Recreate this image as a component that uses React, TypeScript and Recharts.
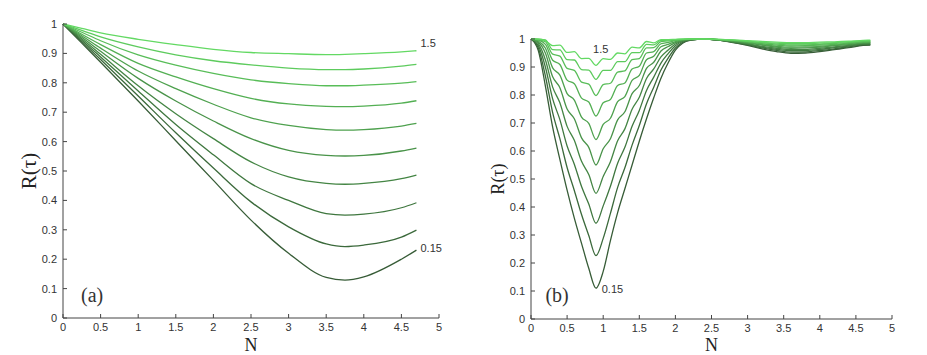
import React from 'react';
import { LineChart, Line, XAxis, YAxis, ReferenceDot } from 'recharts';

// axis ticks
const xTicks = [0, 0.5, 1, 1.5, 2, 2.5, 3, 3.5, 4, 4.5, 5];
const yTicks = [0, 0.1, 0.2, 0.3, 0.4, 0.5, 0.6, 0.7, 0.8, 0.9, 1];

// curve parameters, light (1.5) to dark (0.15)
const curveNames = ['1.5', '1.35', '1.2', '1.05', '0.9', '0.75', '0.6', '0.45', '0.3', '0.15'];
const lineColors = ['#63d963', '#5dcb5d', '#58bd58', '#53af53', '#4ea14e', '#499349', '#448544', '#3f773f', '#3b693b', '#375c37'];

// panel (a)
const leftN = [0, 0.25, 0.5, 1, 1.5, 2, 2.5, 3, 3.5, 3.75, 4, 4.5, 4.7];
const leftA1 = [1, 0.985, 0.970, 0.948, 0.930, 0.914, 0.903, 0.899, 0.896, 0.897, 0.899, 0.905, 0.909];
const leftA2 = [1, 0.978, 0.956, 0.922, 0.895, 0.875, 0.861, 0.850, 0.845, 0.845, 0.847, 0.857, 0.863];
const leftA3 = [1, 0.972, 0.943, 0.895, 0.860, 0.832, 0.810, 0.797, 0.790, 0.790, 0.792, 0.799, 0.804];
const leftA4 = [1, 0.965, 0.930, 0.866, 0.820, 0.780, 0.747, 0.728, 0.720, 0.719, 0.721, 0.731, 0.739];
const leftA5 = [1, 0.960, 0.918, 0.840, 0.780, 0.727, 0.681, 0.655, 0.641, 0.639, 0.641, 0.653, 0.662];
const leftA6 = [1, 0.955, 0.907, 0.815, 0.738, 0.670, 0.610, 0.570, 0.553, 0.551, 0.553, 0.568, 0.578];
const leftA7 = [1, 0.950, 0.897, 0.790, 0.695, 0.610, 0.531, 0.480, 0.458, 0.455, 0.458, 0.474, 0.486];
const leftA8 = [1, 0.945, 0.888, 0.772, 0.658, 0.555, 0.457, 0.400, 0.355, 0.350, 0.353, 0.375, 0.392];
const leftA9 = [1, 0.940, 0.879, 0.755, 0.630, 0.510, 0.395, 0.310, 0.252, 0.243, 0.248, 0.275, 0.299];
const leftA10 = [1, 0.935, 0.870, 0.738, 0.603, 0.468, 0.333, 0.220, 0.138, 0.129, 0.140, 0.200, 0.231];
const leftCurves = [leftA1, leftA2, leftA3, leftA4, leftA5, leftA6, leftA7, leftA8, leftA9, leftA10];

// panel (b)
const rightN = [0, 0.1, 0.2, 0.3, 0.4, 0.5, 0.6, 0.7, 0.8, 0.9, 1.0, 1.1, 1.2, 1.3, 1.4, 1.5, 1.6, 1.7, 1.8, 1.9, 2.0, 2.1, 2.2,
  2.4, 2.6, 2.8, 3.0, 3.2, 3.4, 3.6, 3.8, 4.0, 4.2, 4.4, 4.6, 4.7];
const rightB1 = [1, 1, 0.994, 0.976, 0.978, 0.952, 0.955, 0.930, 0.931, 0.906, 0.930, 0.927, 0.950, 0.947, 0.971, 0.968, 0.991, 0.986, 0.998, 0.998, 0.999, 1, 1,
  1, 0.999, 0.997, 0.994, 0.991, 0.989, 0.987, 0.987, 0.989, 0.990, 0.992, 0.995, 0.996];
const rightB2 = [1, 0.999, 0.997, 0.962, 0.961, 0.926, 0.925, 0.891, 0.889, 0.856, 0.888, 0.888, 0.919, 0.919, 0.951, 0.951, 0.981, 0.979, 0.995, 0.996, 0.998, 0.999, 1,
  1, 0.999, 0.996, 0.992, 0.988, 0.985, 0.983, 0.983, 0.985, 0.987, 0.990, 0.993, 0.994];
const rightB3 = [1, 0.998, 0.990, 0.946, 0.939, 0.895, 0.888, 0.846, 0.839, 0.798, 0.837, 0.842, 0.882, 0.886, 0.926, 0.930, 0.968, 0.969, 0.991, 0.993, 0.996, 0.998, 1,
  1, 0.998, 0.995, 0.991, 0.986, 0.982, 0.979, 0.979, 0.981, 0.984, 0.987, 0.991, 0.992];
const rightB4 = [1, 0.996, 0.981, 0.924, 0.909, 0.853, 0.840, 0.789, 0.775, 0.725, 0.772, 0.784, 0.834, 0.843, 0.893, 0.903, 0.950, 0.955, 0.983, 0.988, 0.994, 0.998, 0.999,
  1, 0.998, 0.994, 0.989, 0.983, 0.978, 0.975, 0.976, 0.978, 0.981, 0.985, 0.989, 0.990];
const rightB5 = [1, 0.993, 0.967, 0.897, 0.871, 0.805, 0.782, 0.721, 0.699, 0.641, 0.695, 0.717, 0.776, 0.794, 0.852, 0.870, 0.926, 0.938, 0.972, 0.981, 0.991, 0.997, 0.999,
  1, 0.998, 0.993, 0.987, 0.980, 0.974, 0.971, 0.972, 0.974, 0.978, 0.983, 0.987, 0.988];
const rightB6 = [1, 0.989, 0.949, 0.865, 0.826, 0.750, 0.715, 0.647, 0.613, 0.550, 0.608, 0.644, 0.711, 0.740, 0.805, 0.834, 0.895, 0.917, 0.957, 0.973, 0.987, 0.995, 0.998,
  1, 0.997, 0.992, 0.985, 0.978, 0.971, 0.967, 0.968, 0.971, 0.976, 0.980, 0.985, 0.986];
const rightB7 = [1, 0.984, 0.925, 0.828, 0.772, 0.688, 0.638, 0.563, 0.516, 0.449, 0.509, 0.562, 0.637, 0.679, 0.749, 0.792, 0.859, 0.893, 0.936, 0.961, 0.982, 0.993, 0.998,
  1, 0.997, 0.990, 0.983, 0.974, 0.967, 0.962, 0.963, 0.967, 0.972, 0.977, 0.983, 0.984];
const rightB8 = [1, 0.977, 0.899, 0.786, 0.712, 0.618, 0.553, 0.473, 0.411, 0.342, 0.404, 0.474, 0.556, 0.613, 0.688, 0.745, 0.816, 0.864, 0.914, 0.948, 0.976, 0.991, 0.997,
  1, 0.996, 0.989, 0.981, 0.971, 0.963, 0.958, 0.959, 0.963, 0.969, 0.975, 0.981, 0.982];
const rightB9 = [1, 0.969, 0.867, 0.737, 0.644, 0.541, 0.459, 0.373, 0.298, 0.226, 0.288, 0.377, 0.470, 0.540, 0.621, 0.691, 0.769, 0.828, 0.889, 0.932, 0.968, 0.988, 0.996,
  1, 0.996, 0.988, 0.979, 0.968, 0.959, 0.953, 0.954, 0.959, 0.965, 0.972, 0.979, 0.980];
const rightB10 = [1, 0.960, 0.831, 0.685, 0.570, 0.460, 0.360, 0.270, 0.181, 0.110, 0.170, 0.280, 0.380, 0.465, 0.550, 0.635, 0.715, 0.790, 0.860, 0.915, 0.960, 0.985, 0.995,
  1, 0.996, 0.987, 0.977, 0.965, 0.955, 0.949, 0.950, 0.955, 0.962, 0.969, 0.977, 0.978];
const rightCurves = [rightB1, rightB2, rightB3, rightB4, rightB5, rightB6, rightB7, rightB8, rightB9, rightB10];

const toRows = (ns: number[], curves: number[][]) =>
  ns.map((n, i) => {
    const row: Record<string, number> = { n };
    curves.forEach((c, k) => { row['c' + k] = c[i]; });
    return row;
  });

const leftData = toRows(leftN, leftCurves);
const rightData = toRows(rightN, rightCurves);

const sans = '"Liberation Sans", Arial, sans-serif';
const serif = '"Liberation Serif", "Times New Roman", serif';
const axisColor = '#444';

const BottomTick = (props: any) => {
  const { x, y, payload } = props;
  return (
    <g>
      <line x1={x} x2={x} y1={y} y2={y - 4} stroke={axisColor} />
      <text x={x} y={y + 13} textAnchor="middle" fontSize={11} fill="#333" fontFamily={sans}>{payload.value}</text>
    </g>
  );
};

const LeftTick = (props: any) => {
  const { x, y, payload } = props;
  return (
    <g>
      <line x1={x} x2={x + 4} y1={y} y2={y} stroke={axisColor} />
      <text x={x - 6} y={y + 4} textAnchor="end" fontSize={11} fill="#333" fontFamily={sans}>{payload.value}</text>
    </g>
  );
};

const makeNLabel = () => (props: any) => {
  const { viewBox } = props;
  const cx = viewBox.x + viewBox.width / 2;
  return <text x={cx} y={viewBox.y + viewBox.height - 4} textAnchor="middle" fontSize={18} fill="#222" fontFamily={serif}>N</text>;
};

const makeRLabel = (bx: number, size: number) => (props: any) => {
  const { viewBox } = props;
  const cy = viewBox.y + viewBox.height / 2;
  return (
    <text x={bx} y={cy} transform={`rotate(-90 ${bx} ${cy})`} textAnchor="middle" fontSize={size} fill="#222" fontFamily={serif}>R(τ)</text>
  );
};

const textShape = (txt: string, size: number, family: string) => (p: any) => (
  <text x={p.cx} y={p.cy} fontSize={size} fill="#333" fontFamily={family}>{txt}</text>
);

interface PanelProps {
  data: Record<string, number>[];
  width: number;
  margin: { top: number; right: number; bottom: number; left: number };
  yAxisWidth: number;
  xAxisHeight: number;
  rLabelX: number;
  rLabelSize: number;
  children?: React.ReactNode;
}

const Panel: React.FC<PanelProps> = ({ data, width, margin, yAxisWidth, xAxisHeight, rLabelX, rLabelSize, children }) => (
  <LineChart width={width} height={355} data={data} margin={margin}>
    <XAxis
      dataKey="n"
      type="number"
      domain={[0, 5]}
      ticks={xTicks}
      interval={0}
      height={xAxisHeight}
      tickSize={0}
      tickMargin={0}
      tickLine={false}
      axisLine={{ stroke: axisColor }}
      tick={<BottomTick />}
      label={{ content: makeNLabel() }}
    />
    <YAxis
      type="number"
      domain={[0, 1]}
      ticks={yTicks}
      interval={0}
      width={yAxisWidth}
      tickSize={0}
      tickMargin={0}
      tickLine={false}
      axisLine={{ stroke: axisColor }}
      tick={<LeftTick />}
      label={{ content: makeRLabel(rLabelX, rLabelSize) }}
    />
    {curveNames.map((_, k) => {
      const idx = curveNames.length - 1 - k; // dark first, light on top
      return (
        <Line
          key={idx}
          type="monotone"
          dataKey={'c' + idx}
          stroke={lineColors[idx]}
          strokeWidth={1.3}
          dot={false}
          activeDot={false}
          isAnimationActive={false}
        />
      );
    })}
    {children}
  </LineChart>
);

export default function App() {
  return (
    <div style={{ position: 'absolute', left: 0, top: 0, width: 927, height: 355, background: '#fff' }}>
      <div style={{ position: 'absolute', left: 0, top: 0 }}>
        <Panel data={leftData} width={470} margin={{ top: 24, right: 31, bottom: 0, left: 0 }} yAxisWidth={63} xAxisHeight={37} rLabelX={36} rLabelSize={21}>
          <ReferenceDot x={4.754} y={0.922} r={0} shape={textShape('1.5', 11, sans)} />
          <ReferenceDot x={4.754} y={0.224} r={0} shape={textShape('0.15', 11, sans)} />
          <ReferenceDot x={0.24} y={0.054} r={0} shape={textShape('(a)', 20, serif)} />
        </Panel>
      </div>
      <div style={{ position: 'absolute', left: 460, top: 0 }}>
        <Panel data={rightData} width={467} margin={{ top: 39, right: 35, bottom: 0, left: 0 }} yAxisWidth={71} xAxisHeight={36} rLabelX={44} rLabelSize={18}>
          <ReferenceDot x={0.86} y={0.95} r={0} shape={textShape('1.5', 11, sans)} />
          <ReferenceDot x={0.98} y={0.093} r={0} shape={textShape('0.15', 11, sans)} />
          <ReferenceDot x={0.2} y={0.061} r={0} shape={textShape('(b)', 20, serif)} />
        </Panel>
      </div>
    </div>
  );
}
